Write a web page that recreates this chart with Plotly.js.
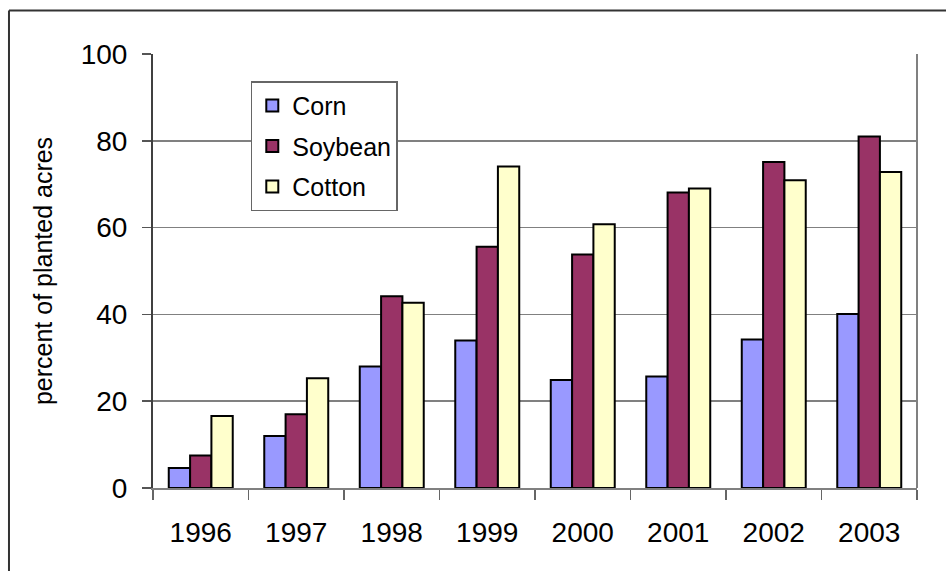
<!DOCTYPE html>
<html>
<head>
<meta charset="utf-8">
<script src="https://cdn.plot.ly/plotly-3.0.1.min.js"></script>
<style>
  html, body { margin: 0; padding: 0; background: #ffffff; overflow: hidden; }
  #chart { width: 946px; height: 571px; }
</style>
</head>
<body>
<div id="chart"></div>
<script>
const years = ["1996", "1997", "1998", "1999", "2000", "2001", "2002", "2003"];
const corn = [4.6, 12.0, 28.0, 34.0, 24.9, 25.7, 34.2, 40.1];
const soybean = [7.5, 17.0, 44.2, 55.6, 53.8, 68.1, 75.1, 81.0];
const cotton = [16.6, 25.3, 42.7, 74.1, 60.8, 69.0, 70.9, 72.8];
const seriesNames = ["Corn", "Soybean", "Cotton"];
const yTicks = [0, 20, 40, 60, 80, 100];
const yTitle = "percent of planted acres";

const FONT = "Liberation Sans, Arial, Helvetica, sans-serif";
const colors = ["#9999FF", "#993366", "#FFFFCC"];
const seriesData = [corn, soybean, cotton];

const traces = seriesData.map((vals, i) => ({
  type: "bar",
  name: seriesNames[i],
  x: years,
  y: vals,
  legendgroup: "g" + i,
  marker: { color: colors[i], line: { color: "#000000", width: 2 } },
  hoverinfo: "x+y+name"
}));

const layout = {
  width: 946,
  height: 571,
  margin: { l: 153, r: 29, t: 53.5, b: 83.3, pad: 0 },
  paper_bgcolor: "#ffffff",
  plot_bgcolor: "#ffffff",
  font: { family: FONT, color: "#000000", size: 28 },
  barmode: "group",
  bargap: 0.33,
  bargroupgap: 0,
  showlegend: true,
  legend: {
    x: 0.128, y: 0.937, xanchor: "left", yanchor: "top",
    bgcolor: "#ffffff", bordercolor: "#666666", borderwidth: 1.5,
    font: { family: FONT, size: 25, color: "#000000" },
    traceorder: "grouped", tracegroupgap: 5
  },
  xaxis: {
    type: "category",
    tickson: "boundaries",
    ticks: "outside", ticklen: 10, tickwidth: 1.5, tickcolor: "#666666",
    showline: true, linecolor: "#808080", linewidth: 1.5,
    showgrid: false, zeroline: false,
    ticklabelstandoff: 19,
    tickfont: { family: FONT, size: 28, color: "#000000" },
    fixedrange: true
  },
  yaxis: {
    range: [0, 100],
    tickvals: yTicks,
    ticktext: yTicks.map(String),
    ticks: "outside", ticklen: 9, tickwidth: 1.5, tickcolor: "#555555",
    showline: true, linecolor: "#404040", linewidth: 2,
    showgrid: true, gridcolor: "#808080", gridwidth: 1.5,
    zeroline: false,
    ticklabelstandoff: 9,
    tickfont: { family: FONT, size: 28, color: "#000000" },
    title: { text: yTitle, font: { family: FONT, size: 25, color: "#000000" }, standoff: 21 },
    fixedrange: true
  },
  shapes: [
    { type: "line", xref: "paper", yref: "paper", x0: 1, x1: 1, y0: 0, y1: 1,
      line: { color: "#808080", width: 2 } },
    { type: "line", xref: "paper", yref: "paper", x0: -0.1885, x1: 1.04, y0: 1.1, y1: 1.1,
      line: { color: "#333333", width: 2 }, layer: "above" },
    { type: "line", xref: "paper", yref: "paper", x0: -0.1885, x1: -0.1885, y0: -0.3, y1: 1.1,
      line: { color: "#333333", width: 2 }, layer: "above" }
  ]
};

Plotly.newPlot("chart", traces, layout, { displayModeBar: false, staticPlot: true });
</script>
</body>
</html>
